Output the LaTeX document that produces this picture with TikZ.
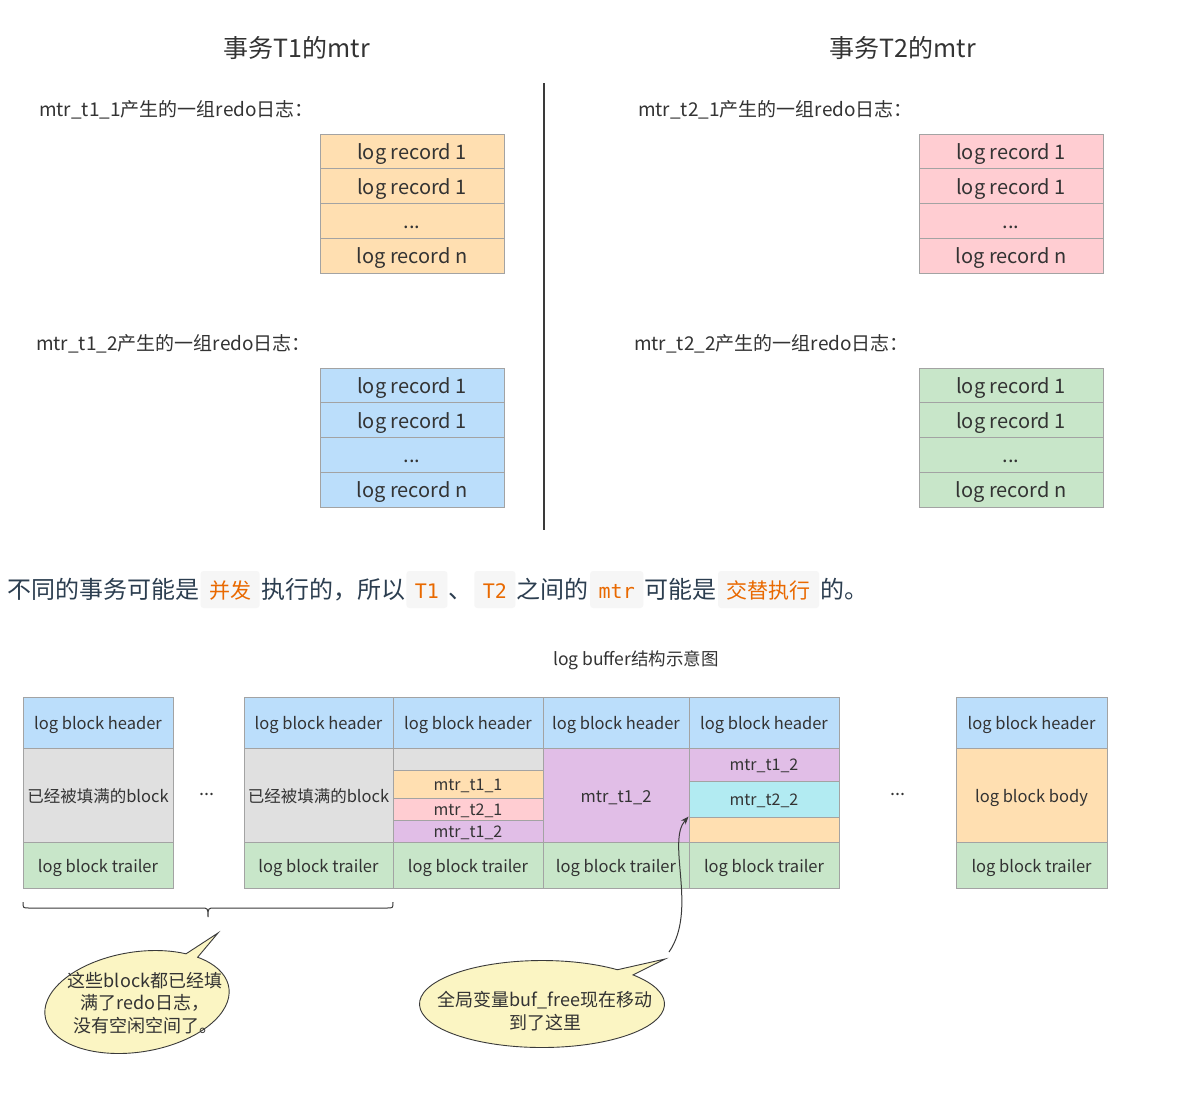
\documentclass[tikz,border=0pt]{standalone}
\usepackage{fontspec}
\setmainfont{Noto Sans CJK SC}
\newfontfamily\codefont{DejaVu Sans Mono}
\usetikzlibrary{arrows.meta}

\definecolor{linec}{HTML}{A3A3A3}
\definecolor{txt}{HTML}{333333}
\definecolor{sent}{HTML}{2C3E50}
\definecolor{hlorange}{HTML}{E96900}
\definecolor{codebg}{HTML}{F6F6F6}
\definecolor{cOrange}{HTML}{FFDFB1}
\definecolor{cPink}{HTML}{FFCDD2}
\definecolor{cBlue}{HTML}{BBDEFB}
\definecolor{cGreen}{HTML}{C8E6C9}
\definecolor{cGray}{HTML}{E0E0E0}
\definecolor{cPurple}{HTML}{E1BEE7}
\definecolor{cCyan}{HTML}{B2EBF2}
\definecolor{callfill}{HTML}{FBF5C3}
\definecolor{inkc}{HTML}{3A3A3A}

\newcommand{\middots}{\raisebox{0.3em}{...}}

\tikzset{
  frame/.style={draw=linec, line width=0.9pt, inner sep=0pt, text=txt},
  rec/.style={frame, minimum width=184pt, minimum height=34.75pt,
              text height=18pt, text depth=2pt, font=\fontsize{20}{22}\selectfont},
  blk/.style={frame, text height=16.5pt, text depth=2.5pt, font=\fontsize{16.5}{18}\selectfont},
  sub/.style={frame, text height=14pt, text depth=2pt, font=\fontsize{16}{17}\selectfont},
  colw/.style={minimum width=#1},
  rowh/.style={minimum height=#1},
  heading/.style={text=txt, inner sep=0pt, font=\fontsize{25}{28}\selectfont},
  grouplabel/.style={text=txt, inner sep=0pt, anchor=west, font=\fontsize{19}{21}\selectfont},
  plain/.style={text=sent, inner sep=0pt, anchor=base west, font=\fontsize{24}{26}\selectfont},
  hl/.style={fill=codebg, rounded corners=3pt, text=hlorange, anchor=base west,
             inner xsep=8.5pt, inner ysep=8pt, text height=19pt, text depth=2pt},
  hlcjk/.style={hl, font=\fontsize{21}{23}\selectfont},
  hlcode/.style={hl, font=\codefont\fontsize{20}{22}\selectfont},
  dots/.style={text=txt, inner sep=0pt, font=\fontsize{18}{20}\selectfont},
  callout/.style={draw=inkc, line width=0.9pt, fill=callfill},
  calltext/.style={text=txt, inner sep=0pt, align=center, font=\fontsize{18}{22.5}\selectfont},
  ink/.style={draw=inkc, line width=1pt},
}

\begin{document}
\begin{tikzpicture}[x=1pt,y=-1pt]
\useasboundingbox (0,0) rectangle (1198,1098);
\fill[white] (0,0) rectangle (1198,1098);

% ---------- column headings and divider ----------
\node[heading] (t1) at (297,48) {事务T1的mtr};
\node[heading] (t2) at (903,48) {事务T2的mtr};
\coordinate (divtop) at (544,83);
\coordinate (divbot) at (544,530);
\draw[draw=inkc, line width=1.3pt] (divtop) -- (divbot);

% ---------- redo groups of T1 ----------
\node[grouplabel] (g11) at (39,110) {mtr\_t1\_1产生的一组redo日志：};
\node[rec, fill=cOrange] (r11a) at (412,151.4) {log record 1};
\node[rec, fill=cOrange] (r11b) at (412,186.1) {log record 1};
\node[rec, fill=cOrange] (r11c) at (412,220.9) {...};
\node[rec, fill=cOrange] (r11d) at (412,255.6) {log record n};

\node[grouplabel] (g12) at (36,344) {mtr\_t1\_2产生的一组redo日志：};
\node[rec, fill=cBlue] (r12a) at (412,385.4) {log record 1};
\node[rec, fill=cBlue] (r12b) at (412,420.1) {log record 1};
\node[rec, fill=cBlue] (r12c) at (412,454.9) {...};
\node[rec, fill=cBlue] (r12d) at (412,489.6) {log record n};

% ---------- redo groups of T2 ----------
\node[grouplabel] (g21) at (638,110) {mtr\_t2\_1产生的一组redo日志：};
\node[rec, fill=cPink] (r21a) at (1011,151.4) {log record 1};
\node[rec, fill=cPink] (r21b) at (1011,186.1) {log record 1};
\node[rec, fill=cPink] (r21c) at (1011,220.9) {...};
\node[rec, fill=cPink] (r21d) at (1011,255.6) {log record n};

\node[grouplabel] (g22) at (634,344) {mtr\_t2\_2产生的一组redo日志：};
\node[rec, fill=cGreen] (r22a) at (1011,385.4) {log record 1};
\node[rec, fill=cGreen] (r22b) at (1011,420.1) {log record 1};
\node[rec, fill=cGreen] (r22c) at (1011,454.9) {...};
\node[rec, fill=cGreen] (r22d) at (1011,489.6) {log record n};

% ---------- explanatory sentence ----------
\node[plain] (s1) at (7,598) {不同的事务可能是};
\node[hlcjk] (s2) at ([xshift=1pt]s1.base east) {并发};
\node[plain] (s3) at ([xshift=1pt]s2.base east) {执行的，所以};
\node[hlcode] (s4) at ([xshift=1pt]s3.base east) {T1};
\node[plain] (s5) at ([xshift=1pt]s4.base east) {、};
\node[hlcode] (s6) at ([xshift=1pt]s5.base east) {T2};
\node[plain] (s7) at ([xshift=1pt]s6.base east) {之间的};
\node[hlcode] (s8) at ([xshift=1pt]s7.base east) {mtr};
\node[plain] (s9) at ([xshift=1pt]s8.base east) {可能是};
\node[hlcjk] (s10) at ([xshift=1pt]s9.base east) {交替执行};
\node[plain] (s11) at ([xshift=1pt]s10.base east) {的。};

% ---------- log buffer ----------
\node[text=txt, inner sep=0pt, font=\fontsize{17.5}{19}\selectfont] (lbt) at (636,660) {log buffer结构示意图};

% block A
\node[blk, fill=cBlue,  colw=150pt, rowh=51pt] (a1) at (98,722.5) {log block header};
\node[blk, fill=cGray,  colw=150pt, rowh=94pt] (a2) at (98,795) {已经被填满的block};
\node[blk, fill=cGreen, colw=150pt, rowh=46pt] (a3) at (98,865) {log block trailer};

\node[dots] (d1) at (207,797) {\middots};

% block B
\node[blk, fill=cBlue,  colw=149pt, rowh=51pt] (b1) at (318.5,722.5) {log block header};
\node[blk, fill=cGray,  colw=149pt, rowh=94pt] (b2) at (318.5,795) {已经被填满的block};
\node[blk, fill=cGreen, colw=149pt, rowh=46pt] (b3) at (318.5,865) {log block trailer};

% block C
\node[blk, fill=cBlue,  colw=150pt, rowh=51pt] (c1) at (468,722.5) {log block header};
\node[sub, fill=cGray,   colw=150pt, rowh=22pt] (c2) at (468,759) {};
\node[sub, fill=cOrange, colw=150pt, rowh=28pt] (c3) at (468,784) {mtr\_t1\_1};
\node[sub, fill=cPink,   colw=150pt, rowh=22pt] (c4) at (468,809) {mtr\_t2\_1};
\node[sub, fill=cPurple, colw=150pt, rowh=22pt] (c5) at (468,831) {mtr\_t1\_2};
\node[blk, fill=cGreen, colw=150pt, rowh=46pt] (c6) at (468,865) {log block trailer};

% block D
\node[blk, fill=cBlue,   colw=146pt, rowh=51pt] (dd1) at (616,722.5) {log block header};
\node[blk, fill=cPurple, colw=146pt, rowh=94pt] (dd2) at (616,795) {mtr\_t1\_2};
\node[blk, fill=cGreen,  colw=146pt, rowh=46pt] (dd3) at (616,865) {log block trailer};

% block E
\node[blk, fill=cBlue,   colw=150pt, rowh=51pt] (e1) at (764,722.5) {log block header};
\node[sub, fill=cPurple, colw=150pt, rowh=33pt] (e2) at (764,764.5) {mtr\_t1\_2};
\node[sub, fill=cCyan,   colw=150pt, rowh=36pt] (e3) at (764,799) {mtr\_t2\_2};
\node[sub, fill=cOrange, colw=150pt, rowh=25pt] (e4) at (764,829.5) {};
\node[blk, fill=cGreen,  colw=150pt, rowh=46pt] (e5) at (764,865) {log block trailer};

\node[dots] (d2) at (898,797) {\middots};

% block F
\node[blk, fill=cBlue,   colw=151pt, rowh=51pt] (f1) at (1031.5,722.5) {log block header};
\node[blk, fill=cOrange, colw=151pt, rowh=94pt] (f2) at (1031.5,795) {log block body};
\node[blk, fill=cGreen,  colw=151pt, rowh=46pt] (f3) at (1031.5,865) {log block trailer};

% ---------- brace under the filled blocks ----------
\draw[ink] (23,902) .. controls (23,908) .. (29,908) -- (201,908)
  .. controls (208,908) .. (208,917) .. controls (208,908) .. (215,908)
  -- (387,908) .. controls (393,908) .. (393,902);

% ---------- callout: filled blocks ----------
\begin{scope}[shift={(137,1002)}, rotate=9]
  \draw[callout] ({93*cos(-53)},{50*sin(-53)})
    arc[start angle=-53, end angle=-404, x radius=93, y radius=50]
    -- (90.8,-55.5) -- cycle;
\end{scope}
\node[calltext] (n1) at (145,1003) {这些block都已经填\\满了redo日志，\\没有空闲空间了。};

% ---------- callout: buf_free ----------
\begin{scope}[shift={(542,1004)}]
  \draw[callout] ({122.5*cos(-52)},{43.5*sin(-52)})
    arc[start angle=-52, end angle=-402, x radius=122.5, y radius=43.5]
    -- (123,-45) -- cycle;
\end{scope}
\node[calltext] (n2) at (545,1011) {全局变量buf\_free现在移动\\到了这里};

% ---------- pointer to the buf_free position ----------
\coordinate (bfstart) at (669,952);
\draw[ink, -{Stealth[length=8pt,width=6pt]}] (bfstart)
  .. controls (698,910) and (666,842) .. (e4.north west);

\end{tikzpicture}
\end{document}
